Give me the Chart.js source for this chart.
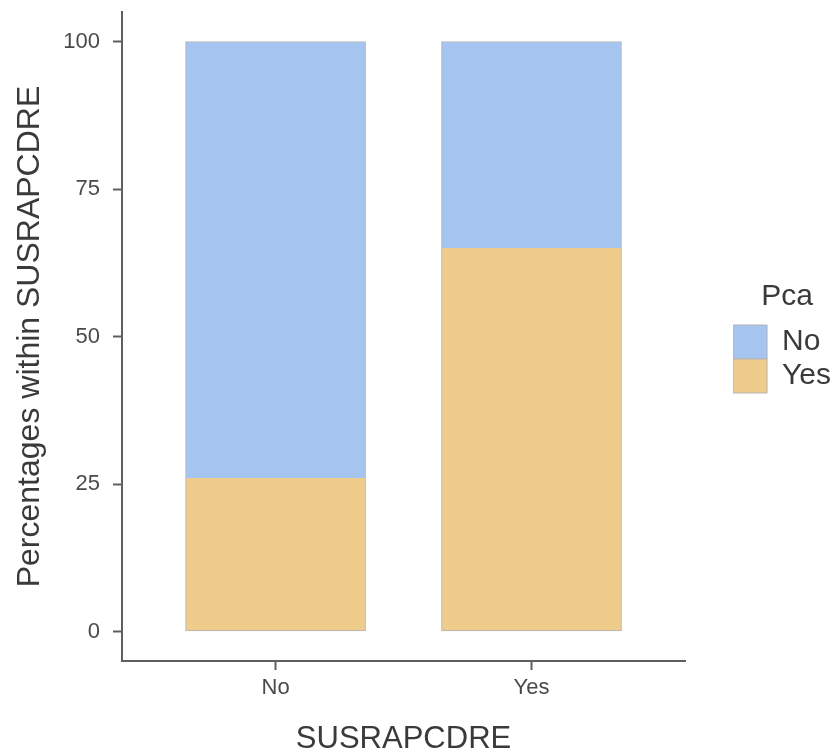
<!DOCTYPE html>
<html>
<head>
<meta charset="utf-8">
<script src="https://cdn.jsdelivr.net/npm/chart.js@4.4.1/dist/chart.umd.min.js"></script>
<style>
  html, body { margin: 0; padding: 0; background: #fff; }
  #wrap { width: 836px; height: 753px; }
</style>
</head>
<body>
<div id="wrap"><canvas id="grafico"></canvas></div>
<script>
// Datos
const categorias = ['No', 'Yes'];
const posiciones = [1, 2];
const pcaNo = [74, 35];
const pcaYes = [26, 65];
const ticksY = [0, 25, 50, 75, 100];

const gris = '#5f5f5f';
const borde = '#b3b3b3';
const fuente = 'Liberation Sans, Arial, sans-serif';

function puntos(vals) {
  return vals.map((v, i) => ({ x: posiciones[i], y: v }));
}

new Chart(document.getElementById('grafico'), {
  type: 'bar',
  data: {
    // Yes va abajo en la pila, No arriba
    datasets: [
      { label: 'Yes', data: puntos(pcaYes), backgroundColor: '#efcb8c', borderColor: borde,
        borderWidth: { top: 0, left: 1, right: 1, bottom: 1 }, borderSkipped: false, barThickness: 180 },
      { label: 'No', data: puntos(pcaNo), backgroundColor: '#a6c4f0', borderColor: borde,
        borderWidth: { top: 1, left: 1, right: 1, bottom: 0 }, borderSkipped: false, barThickness: 180 }
    ]
  },
  options: {
    responsive: true,
    maintainAspectRatio: false,
    animation: false,
    layout: { padding: { top: 12, right: -5, left: 0, bottom: 0 } },
    plugins: {
      tooltip: { enabled: false },
      legend: {
        position: 'right',
        align: 'start',
        title: { display: true, text: 'Pca', color: '#3a3a3a', font: { family: fuente, size: 30 }, padding: { top: 270, bottom: 7 } },
        labels: {
          color: '#3a3a3a',
          font: { family: fuente, size: 30 },
          boxWidth: 34,
          boxHeight: 34,
          padding: 0,
          generateLabels: chart => chart.data.datasets.map((ds, i) => ({
            text: ds.label,
            fillStyle: ds.backgroundColor,
            strokeStyle: borde,
            lineWidth: 1,
            datasetIndex: i
          })).reverse()
        }
      }
    },
    scales: {
      x: {
        type: 'linear',
        stacked: true,
        offset: false,
        min: 0.4,
        max: 2.6,
        afterBuildTicks: s => { s.ticks = posiciones.map(v => ({ value: v })); },
        afterFit: s => { s.height = 92; },
        ticks: {
          color: '#4a4a4a',
          font: { family: fuente, size: 22 },
          padding: 5,
          callback: v => categorias[posiciones.indexOf(v)] || ''
        },
        grid: { offset: false, drawOnChartArea: false, drawTicks: true, tickLength: 9, tickColor: gris, tickWidth: 2 },
        border: { display: true, color: gris, width: 2 },
        title: { display: true, text: 'SUSRAPCDRE', color: '#3a3a3a', font: { family: fuente, size: 31 }, padding: { top: 0, bottom: -5 } }
      },
      y: {
        stacked: true,
        min: -5,
        max: 105,
        afterBuildTicks: s => { s.ticks = ticksY.map(v => ({ value: v })); },
        afterFit: s => { s.width = 122; s.paddingTop = 0; s.paddingBottom = 0; },
        ticks: { color: '#4a4a4a', font: { family: fuente, size: 22 }, padding: 13 },
        grid: { drawOnChartArea: false, drawTicks: true, tickLength: 9, tickColor: gris, tickWidth: 2 },
        border: { display: true, color: gris, width: 2 },
        title: { display: true, text: 'Percentages within SUSRAPCDRE', color: '#3a3a3a', font: { family: fuente, size: 32 }, padding: { top: 11, bottom: 0 } }
      },
      // espacio entre el eje x y la leyenda
      hueco: {
        type: 'linear',
        position: 'right',
        display: true,
        ticks: { display: false },
        grid: { display: false },
        border: { display: false },
        afterFit: s => { s.width = 48; }
      }
    }
  }
});
</script>
</body>
</html>
